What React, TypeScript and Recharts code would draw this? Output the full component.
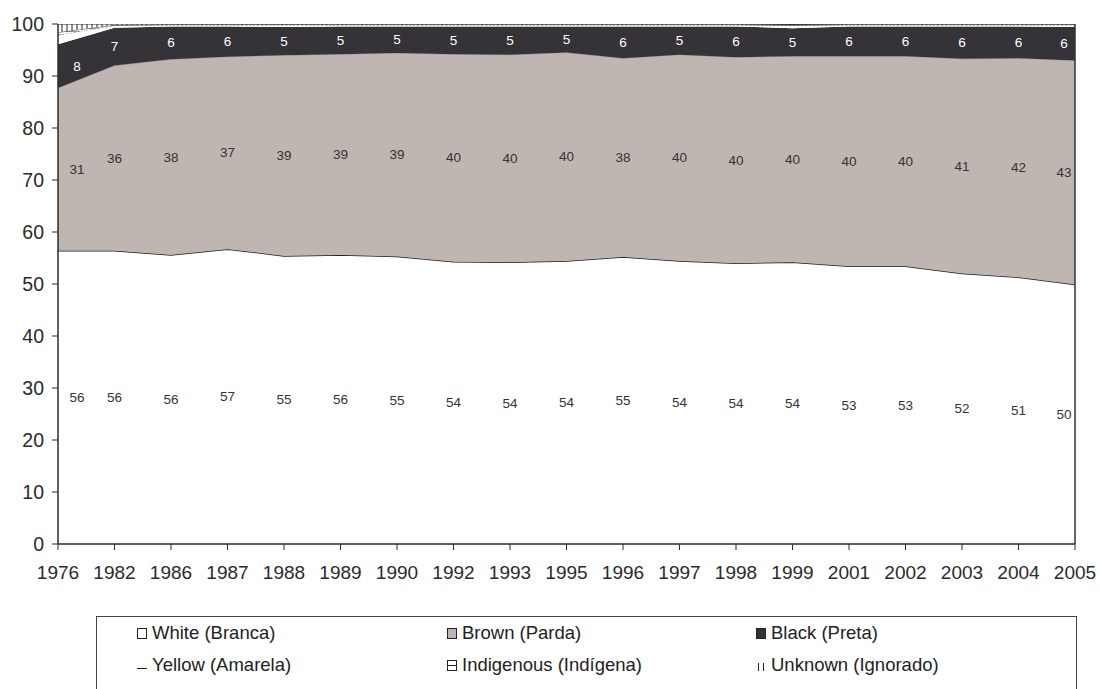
import React from 'react'
import {
  ComposedChart, Area, Line, XAxis, YAxis, ReferenceLine,
} from 'recharts'

const years = ['1976', '1982', '1986', '1987', '1988', '1989', '1990', '1992', '1993', '1995',
  '1996', '1997', '1998', '1999', '2001', '2002', '2003', '2004', '2005']

const white = [56.4, 56.4, 55.6, 56.7, 55.4, 55.6, 55.3, 54.3, 54.2, 54.4, 55.2, 54.4, 54.0, 54.2, 53.4, 53.4, 52.0, 51.3, 49.9]
const brown = [31.3, 35.6, 37.6, 37.0, 38.6, 38.6, 39.1, 39.9, 39.9, 40.1, 38.2, 39.7, 39.6, 39.6, 40.4, 40.4, 41.3, 42.1, 43.1]
const black = [8.4, 7.3, 6.3, 5.8, 5.4, 5.3, 5.1, 5.3, 5.4, 5.0, 6.1, 5.4, 5.9, 5.4, 5.7, 5.7, 6.2, 6.1, 6.4]
const yellow = [1.8, 0.4, 0.3, 0.3, 0.4, 0.3, 0.3, 0.3, 0.3, 0.3, 0.3, 0.3, 0.3, 0.5, 0.3, 0.3, 0.3, 0.3, 0.4]
const indigenous = [0.5, 0.1, 0.1, 0.1, 0.1, 0.1, 0.1, 0.1, 0.1, 0.1, 0.1, 0.1, 0.1, 0.1, 0.1, 0.1, 0.1, 0.1, 0.1]
const unknown = [1.6, 0.2, 0.1, 0.1, 0.1, 0.1, 0.1, 0.1, 0.1, 0.1, 0.1, 0.1, 0.1, 0.1, 0.1, 0.1, 0.1, 0.1, 0.1]

const yTicks = [0, 10, 20, 30, 40, 50, 60, 70, 80, 90, 100]

const data = years.map((year, i) => ({
  year,
  white: white[i],
  brown: brown[i],
  black: black[i],
  yellow: yellow[i],
  indigenous: indigenous[i],
  unknown: unknown[i],
}))

const FONT = '"Liberation Sans", Arial, Helvetica, sans-serif'
const INK = '#2b2b2b'

// label centred in a band; first/last nudged inside like Excel does
function bandLabel(values: number[], color: string) {
  return (props: any) => {
    const { x, y, index } = props
    let dx = 0
    if (index === 0) dx = 19
    if (index === years.length - 1) dx = -11
    return (
      <text x={x + dx} y={y} fill={color} fontSize={13.5} fontFamily={FONT}
        textAnchor="middle" dominantBaseline="central">
        {Math.round(values[index])}
      </text>
    )
  }
}

const legendItems = [
  { label: 'White (Branca)', icon: 'white' },
  { label: 'Brown (Parda)', icon: 'brown' },
  { label: 'Black (Preta)', icon: 'black' },
  { label: 'Yellow (Amarela)', icon: 'yellow' },
  { label: 'Indigenous (Indígena)', icon: 'indigenous' },
  { label: 'Unknown (Ignorado)', icon: 'unknown' },
]

function LegendIcon({ kind }: { kind: string }) {
  const s = { stroke: '#222', strokeWidth: 1 }
  return (
    <svg width={12} height={14} style={{ marginRight: 4, flex: 'none' }}>
      {kind === 'white' && <rect x={1.5} y={2.5} width={9} height={10} fill="#fff" {...s} />}
      {kind === 'brown' && <rect x={1.5} y={2.5} width={9} height={10} fill="#bdb4b0" {...s} />}
      {kind === 'black' && <rect x={1.5} y={2.5} width={9} height={10} fill="#333136" {...s} />}
      {kind === 'yellow' && <line x1={1} x2={11} y1={10.5} y2={10.5} {...s} />}
      {kind === 'indigenous' && (
        <g>
          <rect x={1.5} y={2.5} width={9} height={10} fill="#fff" {...s} />
          <line x1={1.5} x2={10.5} y1={7.5} y2={7.5} {...s} />
        </g>
      )}
      {kind === 'unknown' && (
        <g>
          <line x1={3.5} x2={3.5} y1={5} y2={13} {...s} />
          <line x1={8.5} x2={8.5} y1={5} y2={13} {...s} />
        </g>
      )}
    </svg>
  )
}

export default function App() {
  return (
    <div style={{ position: 'absolute', left: 0, top: 0, width: 1100, height: 689, overflow: 'hidden', background: '#fff' }}>
      <ComposedChart width={1100} height={689} data={data}
        margin={{ top: 24, right: 25, bottom: 115, left: 8 }}>
        <defs>
          <pattern id="unknownHatch" width={5} height={5} patternUnits="userSpaceOnUse">
            <rect width={5} height={5} fill="#fff" />
            <line x1={2} x2={2} y1={0} y2={5} stroke="#222" strokeWidth={1} />
          </pattern>
          <pattern id="indigHatch" width={6} height={3} patternUnits="userSpaceOnUse">
            <rect width={6} height={3} fill="#fff" />
            <line x1={0} x2={6} y1={1.5} y2={1.5} stroke="#555" strokeWidth={0.6} />
          </pattern>
        </defs>
        <XAxis dataKey="year" scale="point" padding={{ left: 0, right: 0 }} height={30}
          tick={{ fill: INK, fontSize: 19, fontFamily: FONT }} tickSize={6} tickMargin={16}
          axisLine={{ stroke: INK, strokeWidth: 1.5 }} tickLine={{ stroke: INK }} interval={0} />
        <YAxis type="number" domain={[0, 100]} ticks={yTicks} width={50} allowDataOverflow
          tick={{ fill: INK, fontSize: 19.5, fontFamily: FONT }} tickSize={6} tickMargin={8}
          axisLine={{ stroke: INK, strokeWidth: 1.5 }} tickLine={{ stroke: INK }} />

        <Area type="linear" dataKey="white" stackId="1" fill="#ffffff" fillOpacity={1}
          stroke="#1e1e1e" strokeWidth={1.5} isAnimationActive={false} />
        <Area type="linear" dataKey="brown" stackId="1" fill="#bfb6b2" fillOpacity={1}
          stroke="#8f8784" strokeWidth={0.6} isAnimationActive={false} />
        <Area type="linear" dataKey="black" stackId="1" fill="#353338" fillOpacity={1}
          stroke="none" isAnimationActive={false} />
        <Area type="linear" dataKey="yellow" stackId="1" fill="#ffffff" fillOpacity={1}
          stroke="#444" strokeWidth={0.8} strokeDasharray="2 2" isAnimationActive={false} />
        <Area type="linear" dataKey="indigenous" stackId="1" fill="url(#indigHatch)" fillOpacity={1}
          stroke="#333" strokeWidth={0.8} isAnimationActive={false} />
        <Area type="linear" dataKey="unknown" stackId="1" fill="url(#unknownHatch)" fillOpacity={1}
          stroke="#333" strokeWidth={1.2} isAnimationActive={false} />

        <ReferenceLine x="2005" stroke="#333" strokeWidth={1.5} />

        <Line dataKey={(d: any) => d.white / 2} stroke="none" dot={false} activeDot={false}
          label={bandLabel(white, '#333')} isAnimationActive={false} legendType="none" />
        <Line dataKey={(d: any) => d.white + d.brown / 2} stroke="none" dot={false} activeDot={false}
          label={bandLabel(brown, '#333')} isAnimationActive={false} legendType="none" />
        <Line dataKey={(d: any) => d.white + d.brown + d.black / 2} stroke="none" dot={false} activeDot={false}
          label={bandLabel(black, '#ffffff')} isAnimationActive={false} legendType="none" />
      </ComposedChart>

      <div style={{
        position: 'absolute', left: 96, top: 616, width: 981, height: 120,
        border: '1px solid #444', boxSizing: 'border-box', fontFamily: FONT, fontSize: 18.5, color: '#222',
      }}>
        {legendItems.map((item, i) => (
          <div key={item.label} style={{
            position: 'absolute',
            left: [39, 349, 658][i % 3],
            top: i < 3 ? 5 : 37,
            display: 'flex', alignItems: 'center', whiteSpace: 'nowrap', lineHeight: '22px',
          }}>
            <LegendIcon kind={item.icon} />
            <span>{item.label}</span>
          </div>
        ))}
      </div>
    </div>
  )
}
